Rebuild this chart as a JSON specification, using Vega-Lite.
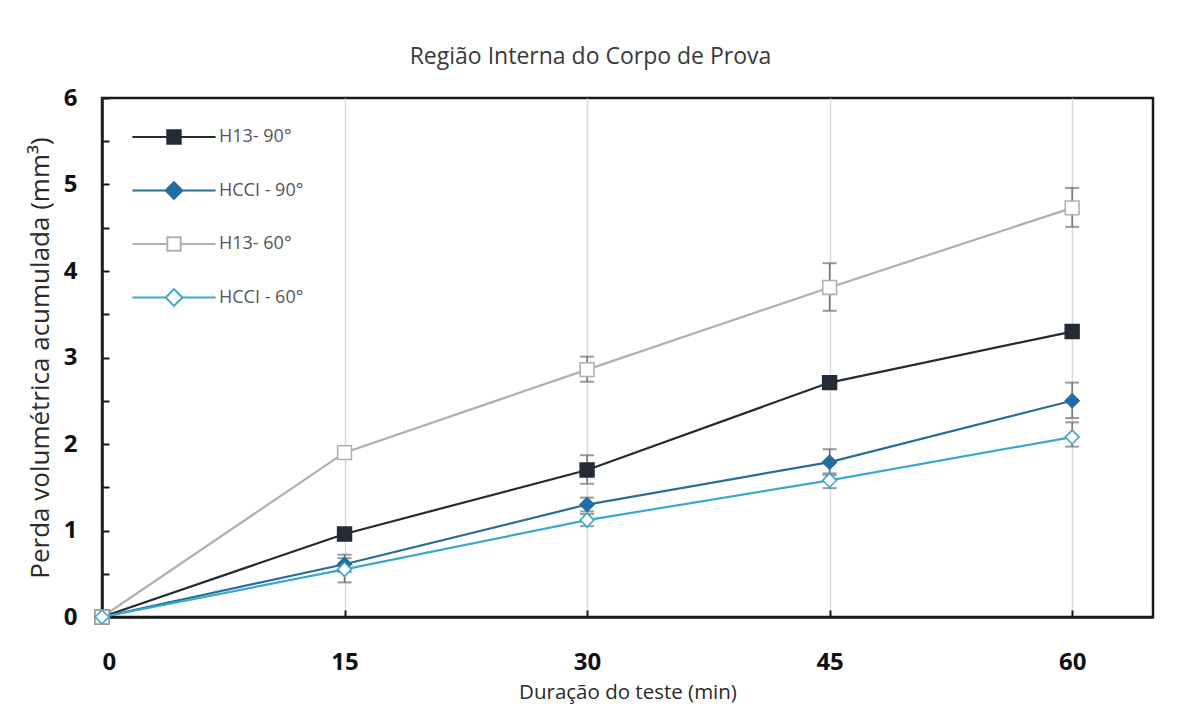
{
  "$schema": "https://vega.github.io/schema/vega-lite/v6.json",
  "autosize": {"type": "none"},
  "padding": {"left": 102, "top": 98, "right": 26, "bottom": 100},
  "width": 1051,
  "height": 519,
  "background": "white",
  "title": {
    "text": "Região Interna do Corpo de Prova",
    "fontSize": 23,
    "font": "Open Sans",
    "fontWeight": "normal",
    "color": "#3a3a3a",
    "anchor": "middle",
    "dx": -37,
    "offset": 17
  },
  "config": {
    "view": {"stroke": "#1a1a1a", "strokeWidth": 2.5},
    "axis": {
      "domainColor": "#1a1a1a",
      "domainWidth": 2.5,
      "tickColor": "#1a1a1a",
      "tickWidth": 2,
      "labelFont": "Open Sans",
      "labelFontSize": 24,
      "labelFontWeight": "bold",
      "labelColor": "#111111",
      "titleFont": "Open Sans",
      "titleFontWeight": "normal",
      "titleColor": "#2a2a2a"
    },
    "legend": {
      "orient": "none",
      "legendX": 63,
      "legendY": 30,
      "title": null,
      "symbolSize": 180,
      "symbolStrokeWidth": 2,
      "labelFont": "Open Sans",
      "labelFontSize": 18,
      "labelColor": "#555555",
      "labelOffset": 36,
      "rowPadding": 29.5
    }
  },
  "resolve": {"scale": {"stroke": "independent", "fill": "independent", "shape": "independent"}},
  "data": {
    "values": [
      {"series": "H13- 90°", "t": 0, "v": 0},
      {"series": "H13- 90°", "t": 15, "v": 0.96, "lo": 0.93, "hi": 0.99},
      {"series": "H13- 90°", "t": 30, "v": 1.70, "lo": 1.54, "hi": 1.87},
      {"series": "H13- 90°", "t": 45, "v": 2.71, "lo": 2.66, "hi": 2.76},
      {"series": "H13- 90°", "t": 60, "v": 3.30, "lo": 3.25, "hi": 3.35},
      {"series": "HCCI - 90°", "t": 0, "v": 0},
      {"series": "HCCI - 90°", "t": 15, "v": 0.61, "lo": 0.52, "hi": 0.72},
      {"series": "HCCI - 90°", "t": 30, "v": 1.30, "lo": 1.22, "hi": 1.38},
      {"series": "HCCI - 90°", "t": 45, "v": 1.79, "lo": 1.64, "hi": 1.94},
      {"series": "HCCI - 90°", "t": 60, "v": 2.50, "lo": 2.30, "hi": 2.71},
      {"series": "H13- 60°", "t": 0, "v": 0},
      {"series": "H13- 60°", "t": 15, "v": 1.90, "lo": 1.86, "hi": 1.94},
      {"series": "H13- 60°", "t": 30, "v": 2.86, "lo": 2.72, "hi": 3.01},
      {"series": "H13- 60°", "t": 45, "v": 3.81, "lo": 3.54, "hi": 4.09},
      {"series": "H13- 60°", "t": 60, "v": 4.73, "lo": 4.51, "hi": 4.96},
      {"series": "HCCI - 60°", "t": 0, "v": 0},
      {"series": "HCCI - 60°", "t": 15, "v": 0.55, "lo": 0.40, "hi": 0.68},
      {"series": "HCCI - 60°", "t": 30, "v": 1.12, "lo": 1.05, "hi": 1.19},
      {"series": "HCCI - 60°", "t": 45, "v": 1.58, "lo": 1.49, "hi": 1.66},
      {"series": "HCCI - 60°", "t": 60, "v": 2.08, "lo": 1.97, "hi": 2.25}
    ]
  },
  "encoding": {
    "x": {
      "field": "t",
      "type": "quantitative",
      "scale": {"domain": [0, 65], "nice": false, "zero": false},
      "axis": {
        "values": [0, 15, 30, 45, 60],
        "title": "Duração do teste (min)",
        "titleFontSize": 20.5,
        "titlePadding": 8,
        "tickSize": -7,
        "labelPadding": 40,
        "grid": true,
        "gridColor": "#d9d9d9",
        "gridWidth": 1.5
      }
    },
    "y": {
      "field": "v",
      "type": "quantitative",
      "scale": {"domain": [0, 6], "nice": false},
      "axis": {
        "values": [0, 0.5, 1, 1.5, 2, 2.5, 3, 3.5, 4, 4.5, 5, 5.5, 6],
        "labelExpr": "datum.value % 1 === 0 ? format(datum.value, 'd') : ''",
        "title": "Perda volumétrica acumulada (mm³)",
        "titleFontSize": 26,
        "titlePadding": 10,
        "tickSize": -7,
        "labelPadding": 32,
        "grid": false
      }
    }
  },
  "layer": [
    {
      "mark": {"type": "line", "strokeWidth": 2.2},
      "encoding": {
        "stroke": {
          "field": "series",
          "type": "nominal",
          "scale": {
            "domain": ["H13- 90°", "HCCI - 90°", "H13- 60°", "HCCI - 60°"],
            "range": ["#222b36", "#2a6d96", "#b0b0b0", "#3aa9cc"]
          },
          "legend": null
        }
      }
    },
    {
      "transform": [{"filter": "datum.lo != null"}],
      "mark": {
        "type": "errorbar",
        "ticks": {"color": "#6f6f6f", "size": 14, "thickness": 2},
        "rule": {"color": "#6f6f6f", "strokeWidth": 1.5}
      },
      "encoding": {
        "y": {"field": "lo", "type": "quantitative"},
        "y2": {"field": "hi"},
        "detail": {"field": "series"}
      }
    },
    {
      "mark": {"type": "point", "size": 190, "strokeWidth": 1.6, "opacity": 1},
      "encoding": {
        "stroke": {
          "field": "series",
          "type": "nominal",
          "scale": {
            "domain": ["H13- 90°", "HCCI - 90°", "H13- 60°", "HCCI - 60°"],
            "range": ["#222b36", "#2a6d96", "#b0b0b0", "#3aa9cc"]
          },
          "legend": null
        },
        "fill": {
          "field": "series",
          "type": "nominal",
          "scale": {
            "domain": ["H13- 90°", "HCCI - 90°", "H13- 60°", "HCCI - 60°"],
            "range": ["#222b36", "#1f6eaa", "#ffffff", "#ffffff"]
          },
          "legend": null
        },
        "shape": {
          "field": "series",
          "type": "nominal",
          "scale": {
            "domain": ["H13- 90°", "HCCI - 90°", "H13- 60°", "HCCI - 60°"],
            "range": ["square", "diamond", "square", "diamond"]
          },
          "legend": null
        }
      }
    },
    {
      "transform": [{"filter": "datum.t < 0"}],
      "mark": {"type": "point", "size": 180, "strokeWidth": 2, "opacity": 1},
      "encoding": {
        "stroke": {
          "field": "series",
          "type": "nominal",
          "scale": {
            "domain": ["H13- 90°", "HCCI - 90°", "H13- 60°", "HCCI - 60°"],
            "range": ["#222b36", "#2a6d96", "#b0b0b0", "#3aa9cc"]
          }
        },
        "fill": {
          "field": "series",
          "type": "nominal",
          "scale": {
            "domain": ["H13- 90°", "HCCI - 90°", "H13- 60°", "HCCI - 60°"],
            "range": ["#222b36", "#1f6eaa", "#ffffff", "#ffffff"]
          }
        },
        "shape": {
          "field": "series",
          "type": "nominal",
          "scale": {
            "domain": ["H13- 90°", "HCCI - 90°", "H13- 60°", "HCCI - 60°"],
            "range": [
              "M-6.2,0L-1,0M1,0L6.2,0M-1,-1L1,-1L1,1L-1,1Z",
              "M-6.2,0L-1.25,0M1.25,0L6.2,0M0,-1.25L1.25,0L0,1.25L-1.25,0Z",
              "M-6.2,0L-1,0M1,0L6.2,0M-1,-1L1,-1L1,1L-1,1Z",
              "M-6.2,0L-1.25,0M1.25,0L6.2,0M0,-1.25L1.25,0L0,1.25L-1.25,0Z"
            ]
          }
        }
      }
    }
  ]
}
